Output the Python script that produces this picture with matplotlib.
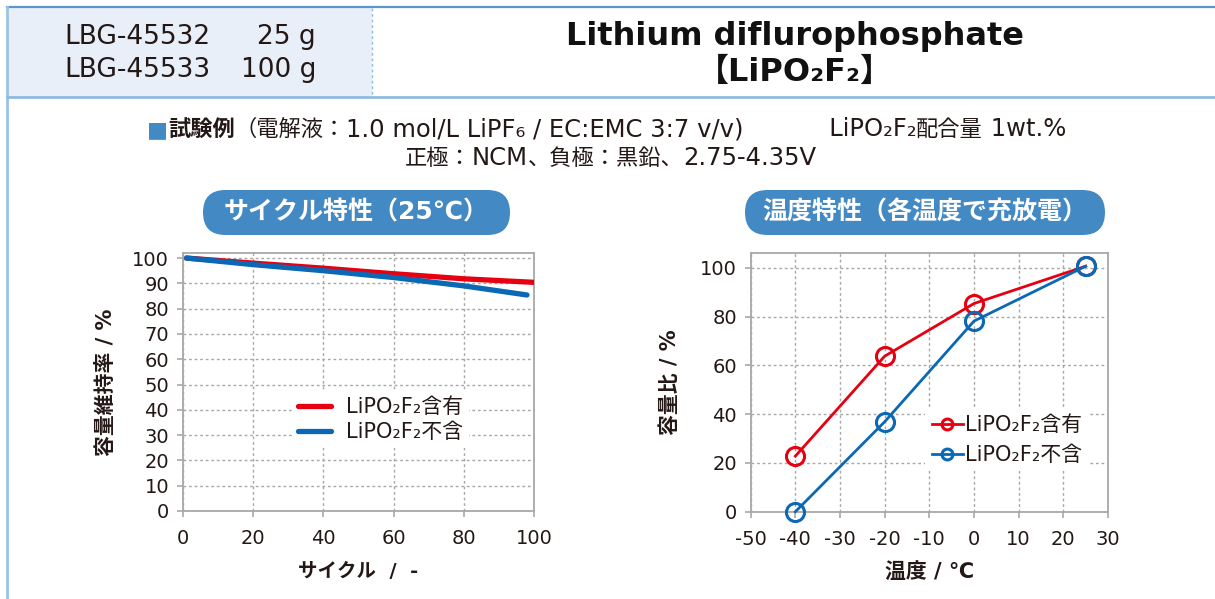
import matplotlib
matplotlib.use("Agg")
import matplotlib.pyplot as plt
from matplotlib.patches import FancyBboxPatch, Rectangle

# latin glyphs from DejaVu, Japanese falls back to Noto CJK
plt.rcParams["font.family"] = ["DejaVu Sans", "Noto Sans CJK JP"]
plt.rcParams["axes.unicode_minus"] = False

# cycle test at 25 C
cycles_with = [1, 20, 40, 60, 80, 100]
retention_with = [100, 98.0, 96.0, 93.8, 91.8, 90.4]
cycles_without = [1, 20, 40, 60, 80, 98]
retention_without = [100, 97.4, 95.0, 92.3, 89.0, 85.4]

# discharge capacity at each temperature
temps = [-40, -20, 0, 25]
ratio_with = [22.8, 63.8, 85.4, 100.7]
ratio_without = [0.0, 36.9, 78.2, 100.7]

label_with = "LiPO₂F₂含有"
label_without = "LiPO₂F₂不含"

W, H = 1215, 599
DARK = "#231815"
RED = "#e60012"
BLUE = "#0a68b4"
PILL = "#4389c4"
GRIDC = "#a8a8a8"

fig = plt.figure(figsize=(W / 100, H / 100), dpi=100)

# background layer in pixel coordinates
bg = fig.add_axes([0, 0, 1, 1])
bg.set_xlim(0, W)
bg.set_ylim(H, 0)
bg.axis("off")

bg.add_patch(Rectangle((8, 8), 364, 89, facecolor="#e9eff8", edgecolor="none"))
bg.plot([7, W], [7, 7], color="#5b95cc", lw=1.6)
bg.plot([7, 7], [7, H], color="#9cc3e4", lw=2.0)
bg.plot([7, W], [97, 97], color="#8fbbe0", lw=2.0)
bg.plot([372, 372], [8, 96], color="#8fbbe0", lw=1.0, ls=(0, (2, 2)))

bg.text(64, 37, "LBG-45532", fontsize=19, color=DARK, va="center", ha="left")
bg.text(316, 37, "25 g", fontsize=19, color=DARK, va="center", ha="right")
bg.text(64, 70, "LBG-45533", fontsize=19, color=DARK, va="center", ha="left")
bg.text(316, 70, "100 g", fontsize=19, color=DARK, va="center", ha="right")

bg.text(795, 36, "Lithium diflurophosphate", fontsize=23, fontweight="bold",
        color="#111111", ha="center", va="center")
bg.text(795, 72, "【LiPO₂F₂】", fontsize=23, fontweight="bold",
        color="#111111", ha="center", va="center")


def run_text(x, y, parts, center=False):
    """Place pieces of text (text, colour, weight, size) one after another."""
    renderer = fig.canvas.get_renderer()
    if center:
        total = 0
        for s, color, weight, size in parts:
            t = bg.text(0, y, s, fontsize=size, fontweight=weight)
            total += t.get_window_extent(renderer=renderer).width
            t.remove()
        x = x - total / 2
    for s, color, weight, size in parts:
        t = bg.text(x, y, s, fontsize=size, color=color,
                    fontweight=weight, ha="left", va="baseline")
        x += t.get_window_extent(renderer=renderer).width


run_text(147, 136, [("■", PILL, "normal", 16),
                    ("試験例", DARK, "bold", 16),
                    ("（電解液：", DARK, "normal", 16),
                    ("1.0 mol/L LiPF₆ / EC:EMC 3:7 v/v)", DARK, "normal", 17.5),
                    ("           LiPO₂F₂", DARK, "normal", 17.5),
                    ("配合量", DARK, "normal", 16),
                    (" 1wt.%", DARK, "normal", 17.5)])
run_text(611, 165, [("正極：", DARK, "normal", 16),
                    ("NCM", DARK, "normal", 17.5),
                    ("、負極：黒鉛、", DARK, "normal", 16),
                    ("2.75-4.35V", DARK, "normal", 17.5)], center=True)

for x0, x1, title in [(203, 510, "サイクル特性（25℃）"),
                      (745, 1105, "温度特性（各温度で充放電）")]:
    h = 45
    bg.add_patch(FancyBboxPatch((x0, 190), x1 - x0, h,
                                boxstyle=f"round,pad=0,rounding_size={h / 2}",
                                facecolor=PILL, edgecolor="none"))
    bg.text((x0 + x1) / 2, 212, title, fontsize=18, fontweight="bold",
            color="white", ha="center", va="center")


def px_axes(left, right, top, bottom):
    return fig.add_axes([left / W, 1 - bottom / H, (right - left) / W,
                         (bottom - top) / H])


def style(ax):
    ax.grid(True, color=GRIDC, ls=(0, (2, 2)), lw=1.0)
    ax.set_axisbelow(True)
    for sp in ax.spines.values():
        sp.set_color(GRIDC)
        sp.set_linewidth(1.3)
    ax.tick_params(length=4, width=1.2, color=GRIDC, labelsize=14,
                   labelcolor=DARK)
    ax.tick_params(axis="x", pad=9)
    ax.tick_params(axis="y", pad=6)


# cycle characteristics
ax1 = px_axes(183, 534, 253, 511)
ax1.plot(cycles_with, retention_with, color=RED, lw=3.8,
         solid_capstyle="round", label=label_with, zorder=3)
ax1.plot(cycles_without, retention_without, color=BLUE, lw=3.8,
         solid_capstyle="round", label=label_without, zorder=3)
ax1.set_xlim(0, 100)
ax1.set_ylim(0, 102)
ax1.set_xticks(range(0, 101, 20))
ax1.set_yticks(range(0, 101, 10))
style(ax1)
ax1.set_xlabel("サイクル  /  -", fontsize=14, fontweight="bold", color=DARK,
               labelpad=10)
ax1.set_ylabel("容量維持率 / %", fontsize=15, fontweight="bold", color=DARK,
               labelpad=12)
leg1 = ax1.legend(loc="center left", bbox_to_anchor=(0.28, 0.355),
                  fontsize=15, frameon=True, framealpha=1, edgecolor="none",
                  handlelength=1.6, handletextpad=0.7, labelspacing=0.25,
                  borderpad=0.3, fancybox=False)
for t in leg1.get_texts():
    t.set_color(DARK)

# temperature characteristics
ax2 = px_axes(750.7, 1108, 253.3, 511.7)
ax2.plot(temps, ratio_with, color=RED, lw=2.0, marker="o", ms=13,
         mfc="none", mew=2.2, label=label_with, zorder=3, clip_on=False)
ax2.plot(temps, ratio_without, color=BLUE, lw=2.0, marker="o", ms=13,
         mfc="none", mew=2.2, label=label_without, zorder=3, clip_on=False)
ax2.set_xlim(-50, 30)
ax2.set_ylim(0, 106)
ax2.set_xticks(range(-50, 31, 10))
ax2.set_yticks(range(0, 101, 20))
style(ax2)
ax2.set_xlabel("温度 / ℃", fontsize=15, fontweight="bold", color=DARK,
               labelpad=10)
ax2.set_ylabel("容量比 / %", fontsize=15, fontweight="bold", color=DARK,
               labelpad=14)
leg2 = ax2.legend(loc="center left", bbox_to_anchor=(0.46, 0.277),
                  fontsize=15, frameon=True, framealpha=1, edgecolor="none",
                  handlelength=1.5, handletextpad=0.1, labelspacing=0.45,
                  borderpad=0.3, fancybox=False, markerscale=0.6)
for t in leg2.get_texts():
    t.set_color(DARK)

fig.savefig("out.png", dpi=100)
